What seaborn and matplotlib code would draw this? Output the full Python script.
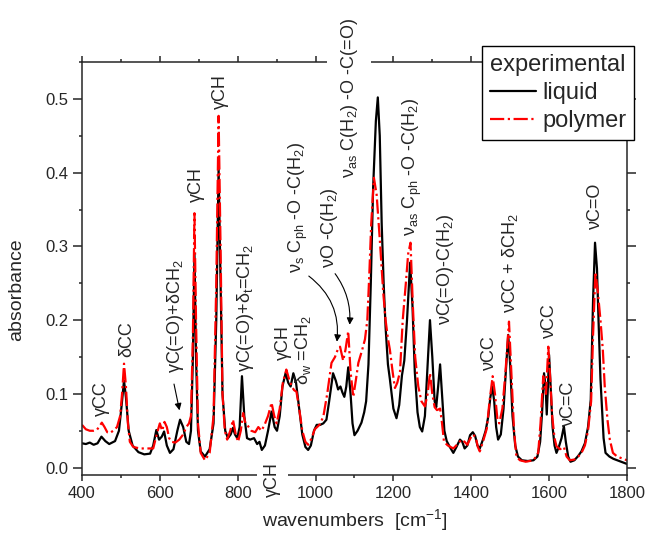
import matplotlib
matplotlib.use('Agg')
import matplotlib.pyplot as plt
import seaborn as sns
import pandas as pd
from matplotlib.ticker import MultipleLocator

# liquid spectrum (black)
liquid_wn = [400, 410, 420, 430, 440, 450, 460, 470, 485, 495, 502, 508, 513, 520, 530, 545,
             560, 575, 583, 591, 598, 605, 611, 618, 626, 635, 645, 652, 660, 668, 675, 680,
             685, 689, 693, 698, 705, 716, 728, 738, 745, 751, 756, 761, 768, 775, 782, 788,
             793, 799, 805, 811, 817, 824, 832, 842, 850, 856, 862, 870, 878, 887, 895, 901,
             908, 915, 923, 930, 936, 943, 950, 958, 966, 974, 981, 988, 996, 1003, 1012, 1020,
             1028, 1035, 1045, 1052, 1058, 1064, 1069, 1074, 1079, 1084, 1090, 1095, 1100, 1108,
             1118, 1125, 1130, 1136, 1142, 1148, 1155, 1160, 1165, 1170, 1175, 1180, 1186, 1191,
             1200, 1208, 1215, 1222, 1228, 1235, 1243, 1249, 1255, 1262, 1268, 1274, 1281, 1288,
             1294, 1300, 1306, 1310, 1315, 1320, 1325, 1331, 1337, 1345, 1354, 1362, 1371, 1377,
             1383, 1390, 1397, 1404, 1410, 1416, 1422, 1430, 1437, 1444, 1449, 1454, 1459, 1464,
             1469, 1476, 1483, 1490, 1495, 1500, 1506, 1513, 1520, 1530, 1545, 1560, 1570, 1577,
             1582, 1587, 1591, 1594, 1597, 1600, 1604, 1609, 1614, 1619, 1625, 1632, 1638, 1643,
             1649, 1655, 1665, 1675, 1683, 1692, 1700, 1707, 1713, 1718, 1723, 1727, 1732, 1736,
             1740, 1745, 1755, 1765, 1780, 1790, 1800]
liquid_abs = [0.033, 0.032, 0.034, 0.031, 0.033, 0.042, 0.036, 0.032, 0.036, 0.050, 0.085, 0.118,
              0.095, 0.050, 0.030, 0.021, 0.018, 0.019, 0.030, 0.051, 0.038, 0.042, 0.049, 0.030,
              0.020, 0.025, 0.050, 0.065, 0.055, 0.035, 0.032, 0.050, 0.150, 0.290, 0.150, 0.050,
              0.022, 0.015, 0.025, 0.060, 0.200, 0.405, 0.250, 0.100, 0.050, 0.040, 0.045, 0.054,
              0.045, 0.040, 0.055, 0.124, 0.070, 0.040, 0.038, 0.040, 0.032, 0.035, 0.024, 0.030,
              0.050, 0.076, 0.055, 0.050, 0.070, 0.110, 0.128, 0.115, 0.110, 0.128, 0.115, 0.080,
              0.045, 0.028, 0.024, 0.030, 0.050, 0.058, 0.058, 0.060, 0.065, 0.090, 0.128, 0.118,
              0.106, 0.110, 0.102, 0.096, 0.110, 0.136, 0.100, 0.060, 0.044, 0.050, 0.061, 0.075,
              0.090, 0.140, 0.250, 0.380, 0.470, 0.502, 0.450, 0.330, 0.250, 0.190, 0.140, 0.120,
              0.080, 0.067, 0.085, 0.125, 0.145, 0.200, 0.278, 0.220, 0.130, 0.075, 0.055, 0.049,
              0.070, 0.140, 0.200, 0.150, 0.090, 0.082, 0.110, 0.140, 0.100, 0.050, 0.036, 0.028,
              0.020, 0.028, 0.038, 0.035, 0.026, 0.030, 0.044, 0.048, 0.043, 0.030, 0.026, 0.038,
              0.050, 0.070, 0.095, 0.110, 0.090, 0.055, 0.038, 0.045, 0.080, 0.140, 0.180, 0.140,
              0.070, 0.030, 0.015, 0.010, 0.009, 0.010, 0.015, 0.035, 0.075, 0.128, 0.110, 0.072,
              0.110, 0.153, 0.110, 0.055, 0.030, 0.020, 0.028, 0.040, 0.056, 0.035, 0.015, 0.008,
              0.010, 0.016, 0.022, 0.033, 0.055, 0.092, 0.228, 0.305, 0.270, 0.200, 0.120, 0.080,
              0.040, 0.020, 0.015, 0.012, 0.009, 0.007, 0.005]

# polymer spectrum (red)
polymer_wn = [400, 410, 420, 430, 438, 445, 451, 458, 465, 472, 480, 490, 498, 503, 508, 513,
              518, 523, 532, 549, 565, 583, 592, 600, 606, 612, 618, 624, 630, 640, 650, 660,
              668, 675, 680, 685, 689, 693, 698, 705, 716, 728, 738, 745, 751, 756, 761, 767,
              773, 781, 788, 795, 801, 808, 814, 820, 827, 835, 845, 853, 861, 869, 878, 887,
              894, 900, 908, 916, 925, 932, 939, 945, 951, 958, 966, 974, 981, 990, 998, 1010,
              1020, 1030, 1041, 1050, 1057, 1063, 1071, 1077, 1084, 1090, 1097, 1104, 1110, 1120,
              1127, 1133, 1138, 1143, 1150, 1157, 1165, 1170, 1174, 1180, 1186, 1191, 1198, 1204,
              1210, 1217, 1224, 1232, 1238, 1244, 1250, 1256, 1264, 1272, 1281, 1288, 1294, 1300,
              1306, 1312, 1320, 1325, 1330, 1340, 1354, 1365, 1375, 1383, 1390, 1398, 1405, 1412,
              1417, 1422, 1430, 1440, 1447, 1455, 1461, 1467, 1472, 1480, 1488, 1497, 1503, 1510,
              1516, 1525, 1540, 1560, 1572, 1578, 1585, 1589, 1592, 1598, 1603, 1608, 1614, 1619,
              1628, 1638, 1645, 1653, 1665, 1675, 1685, 1692, 1700, 1708, 1713, 1719, 1725, 1732,
              1738, 1743, 1750, 1756, 1764, 1775, 1790, 1800]
polymer_abs = [0.058, 0.052, 0.050, 0.050, 0.051, 0.056, 0.061, 0.055, 0.048, 0.047, 0.050, 0.055,
               0.070, 0.100, 0.141, 0.110, 0.060, 0.035, 0.028, 0.026, 0.026, 0.026, 0.045, 0.060,
               0.050, 0.062, 0.055, 0.040, 0.035, 0.034, 0.038, 0.045, 0.055, 0.060, 0.070, 0.180,
               0.345, 0.200, 0.060, 0.020, 0.010, 0.020, 0.070, 0.250, 0.477, 0.300, 0.100, 0.050,
               0.038, 0.050, 0.065, 0.045, 0.035, 0.050, 0.074, 0.060, 0.056, 0.050, 0.048, 0.055,
               0.050, 0.058, 0.070, 0.088, 0.070, 0.060, 0.080, 0.115, 0.133, 0.120, 0.110, 0.105,
               0.103, 0.080, 0.050, 0.035, 0.031, 0.040, 0.052, 0.058, 0.069, 0.100, 0.142, 0.150,
               0.160, 0.164, 0.145, 0.160, 0.185, 0.130, 0.096, 0.120, 0.142, 0.160, 0.174, 0.200,
               0.260, 0.330, 0.393, 0.370, 0.310, 0.270, 0.237, 0.200, 0.175, 0.160, 0.130, 0.108,
               0.115, 0.130, 0.200, 0.250, 0.290, 0.305, 0.220, 0.150, 0.110, 0.090, 0.083, 0.100,
               0.128, 0.100, 0.082, 0.078, 0.080, 0.060, 0.035, 0.030, 0.026, 0.032, 0.038, 0.035,
               0.031, 0.040, 0.045, 0.040, 0.028, 0.022, 0.035, 0.053, 0.090, 0.124, 0.100, 0.067,
               0.060, 0.080, 0.130, 0.198, 0.130, 0.050, 0.015, 0.010, 0.008, 0.010, 0.020, 0.060,
               0.124, 0.110, 0.100, 0.164, 0.120, 0.070, 0.040, 0.029, 0.025, 0.028, 0.015, 0.010,
               0.011, 0.015, 0.022, 0.030, 0.050, 0.090, 0.180, 0.265, 0.240, 0.200, 0.160, 0.110,
               0.065, 0.038, 0.020, 0.015, 0.012, 0.010]

# band assignments: text, x position, y of the lower end
labels = ['γCC', 'δCC', 'γC(=O)+δCH$_2$', 'γCH', 'γCH', 'γC(=O)+δ$_\\mathrm{t}$=CH$_2$',
          'γCH', 'δ$_\\mathrm{w}$ =CH$_2$', 'ν$_\\mathrm{s}$ C$_\\mathrm{ph}$ -O -C(H$_2$)',
          'νO -C(H$_2$)', 'ν$_\\mathrm{as}$ C$_\\mathrm{ph}$ -O -C(H$_2$)', 'νC(=O)-C(H$_2$)',
          'νCC', 'νCC + δCH$_2$', 'νCC', 'νC=C', 'νC=O']
label_x = [451, 514, 639, 693, 755, 820, 918, 968, 957, 1037, 1248, 1333, 1446, 1500, 1602, 1651, 1718]
label_y = [0.070, 0.150, 0.128, 0.360, 0.486, 0.130, 0.146, 0.112, 0.264, 0.271, 0.314, 0.194,
           0.133, 0.210, 0.176, 0.056, 0.323]

sns.set_style('ticks')
plt.rcParams['font.family'] = ['Liberation Sans', 'DejaVu Sans']
plt.rcParams['mathtext.fontset'] = 'custom'
plt.rcParams['mathtext.rm'] = 'Liberation Sans'
plt.rcParams['mathtext.it'] = 'Liberation Sans:italic'
plt.rcParams['mathtext.bf'] = 'Liberation Sans:bold'

fig = plt.figure(figsize=(6.48, 5.42), dpi=100)
ax = fig.add_axes([0.1265, 0.1236, 0.841, 0.762])

liquid = pd.DataFrame({'wn': liquid_wn, 'abs': liquid_abs})
polymer = pd.DataFrame({'wn': polymer_wn, 'abs': polymer_abs})
sns.lineplot(data=liquid, x='wn', y='abs', color='black', lw=1.6, label='liquid', ax=ax, sort=False)
sns.lineplot(data=polymer, x='wn', y='abs', color='red', lw=1.6, linestyle='-.', label='polymer',
             ax=ax, sort=False)

ax.set_xlim(400, 1800)
ax.set_ylim(-0.01, 0.55)
ax.xaxis.set_major_locator(MultipleLocator(200))
ax.xaxis.set_minor_locator(MultipleLocator(100))
ax.yaxis.set_minor_locator(MultipleLocator(0.05))
ax.set_yticks([0.0, 0.1, 0.2, 0.3, 0.4, 0.5])
ax.set_yticklabels(['0.0', '0.1', '0.2', '0.3', '0.4', '0.5'])
ax.tick_params(which='both', direction='out', top=True, right=True, labelsize=12, width=1.1)
ax.tick_params(axis='x', which='major', length=4.5)
ax.tick_params(axis='y', which='major', length=6.5)
ax.tick_params(which='minor', length=2.5)
for s in ax.spines.values():
    s.set_linewidth(1.1)
ax.set_xlabel('wavenumbers  [cm$^{-1}$]', fontsize=14)
ax.set_ylabel('absorbance', fontsize=14)
ax.yaxis.set_label_coords(-0.105, 0.448)

for t, x, y in zip(labels, label_x, label_y):
    ax.text(x, y, t, rotation=90, ha='center', va='bottom', fontsize=13)

# label that cuts through the top frame
ax.text(1086, 0.393, 'ν$_\\mathrm{as}$ C(H$_2$) -O -C(=O)', rotation=90, ha='center', va='bottom',
        fontsize=13, zorder=5, clip_on=False,
        bbox=dict(facecolor='white', edgecolor='none', pad=8))
# label below the bottom frame
ax.text(890, -0.016, 'γCH', rotation=90, ha='center', va='center', fontsize=13, zorder=5,
        clip_on=False, bbox=dict(facecolor='white', edgecolor='none', pad=5))

# arrows
ax.annotate('', xy=(652, 0.074), xytext=(635, 0.117),
            arrowprops=dict(arrowstyle='-|>', color='black', lw=0.8, mutation_scale=10))
ax.annotate('', xy=(1054, 0.167), xytext=(977, 0.262),
            arrowprops=dict(arrowstyle='-|>', color='black', lw=0.8, mutation_scale=10,
                            connectionstyle='arc3,rad=-0.3'))
ax.annotate('', xy=(1087, 0.19), xytext=(1046, 0.266),
            arrowprops=dict(arrowstyle='-|>', color='black', lw=0.8, mutation_scale=10,
                            connectionstyle='arc3,rad=-0.2'))

leg = ax.legend(title='experimental', loc='upper right', bbox_to_anchor=(0.979, 0.915),
                bbox_transform=fig.transFigure, borderaxespad=0, fontsize=17, title_fontsize=17,
                frameon=True, fancybox=False, framealpha=1, edgecolor='black',
                handlelength=1.95, handletextpad=0.25, borderpad=0.35, labelspacing=0.25,
                alignment='left')
leg.get_frame().set_linewidth(1.0)
leg.set_zorder(6)

fig.savefig('out.png', dpi=100)
